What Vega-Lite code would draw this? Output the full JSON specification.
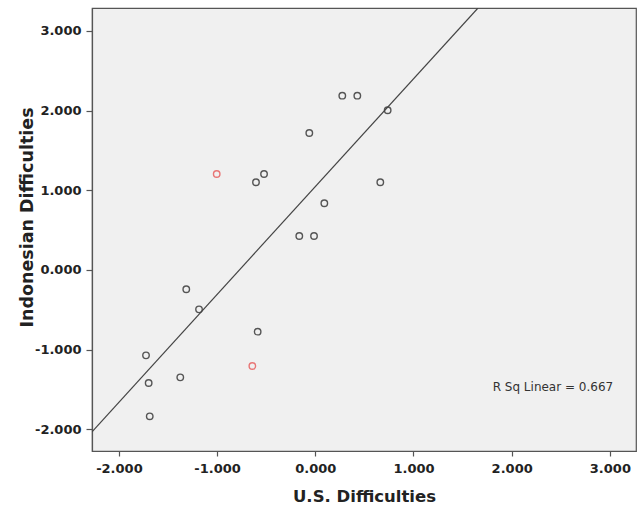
{
  "$schema": "https://vega.github.io/schema/vega-lite/v6.json",
  "autosize": {"type": "none"},
  "padding": {"left": 92, "top": 8, "right": 4, "bottom": 56},
  "width": 544,
  "height": 443,
  "background": "white",
  "config": {
    "view": {"fill": "#f0f0f0", "stroke": "#555", "strokeWidth": 1.2},
    "axis": {
      "grid": false,
      "domainColor": "#555",
      "domainWidth": 1.2,
      "tickColor": "#555",
      "tickWidth": 1.2,
      "labelFont": "DejaVu Sans",
      "labelFontWeight": "bold",
      "labelFontSize": 13,
      "labelColor": "#222",
      "titleFont": "DejaVu Sans",
      "titleFontWeight": "bold",
      "titleColor": "#222"
    }
  },
  "layer": [
    {
      "data": {
        "values": [
          {"us": -1.004, "id": 1.204, "grp": "flag"},
          {"us": -0.604, "id": 1.10, "grp": "normal"},
          {"us": -0.522, "id": 1.204, "grp": "normal"},
          {"us": -0.061, "id": 1.719, "grp": "normal"},
          {"us": -0.163, "id": 0.427, "grp": "normal"},
          {"us": -0.013, "id": 0.427, "grp": "normal"},
          {"us": 0.275, "id": 2.187, "grp": "normal"},
          {"us": 0.428, "id": 2.187, "grp": "normal"},
          {"us": 0.737, "id": 2.004, "grp": "normal"},
          {"us": 0.662, "id": 1.10, "grp": "normal"},
          {"us": 0.092, "id": 0.837, "grp": "normal"},
          {"us": -1.314, "id": -0.242, "grp": "normal"},
          {"us": -1.184, "id": -0.494, "grp": "normal"},
          {"us": -0.587, "id": -0.774, "grp": "normal"},
          {"us": -0.641, "id": -1.205, "grp": "flag"},
          {"us": -1.724, "id": -1.071, "grp": "normal"},
          {"us": -1.697, "id": -1.418, "grp": "normal"},
          {"us": -1.375, "id": -1.347, "grp": "normal"},
          {"us": -1.686, "id": -1.836, "grp": "normal"}
        ]
      },
      "mark": {"type": "point", "shape": "circle", "filled": false, "size": 42, "strokeWidth": 1.4, "opacity": 1},
      "encoding": {
        "x": {
          "field": "us", "type": "quantitative",
          "scale": {"domain": [-2.274, 3.266], "nice": false, "zero": false},
          "axis": {
            "title": "U.S. Difficulties",
            "values": [-2, -1, 0, 1, 2, 3],
            "labelExpr": "replace(format(datum.value, '.3f'), '\u2212', '-')",
            "tickSize": 5,
            "labelPadding": 6,
            "titleFontSize": 16.5,
            "titleY": 50,
            "titleBaseline": "alphabetic"
          }
        },
        "y": {
          "field": "id", "type": "quantitative",
          "scale": {"domain": [-2.271, 3.287], "nice": false, "zero": false},
          "axis": {
            "title": "Indonesian Difficulties",
            "values": [-2, -1, 0, 1, 2, 3],
            "labelExpr": "replace(format(datum.value, '.3f'), '\u2212', '-')",
            "tickSize": 6,
            "labelPadding": 5,
            "titleFontSize": 17.5,
            "titleX": -65,
            "titleY": 209,
            "titleAngle": -90,
            "titleBaseline": "middle",
            "titleAlign": "center"
          }
        },
        "color": {
          "field": "grp", "type": "nominal",
          "scale": {"domain": ["normal", "flag"], "range": ["#555555", "#e87575"]},
          "legend": null
        }
      }
    },
    {
      "data": {
        "values": [
          {"us": -2.274, "id": -2.03},
          {"us": 1.657, "id": 3.287}
        ]
      },
      "mark": {"type": "line", "color": "#444", "strokeWidth": 1.2, "clip": true},
      "encoding": {
        "x": {"field": "us", "type": "quantitative"},
        "y": {"field": "id", "type": "quantitative"}
      }
    },
    {
      "data": {"values": [{"label": "R Sq Linear = 0.667", "us": 2.42, "id": -1.468}]},
      "mark": {"type": "text", "font": "DejaVu Sans", "fontSize": 12, "color": "#333", "align": "center", "baseline": "middle"},
      "encoding": {
        "x": {"field": "us", "type": "quantitative"},
        "y": {"field": "id", "type": "quantitative"},
        "text": {"field": "label"}
      }
    }
  ]
}
